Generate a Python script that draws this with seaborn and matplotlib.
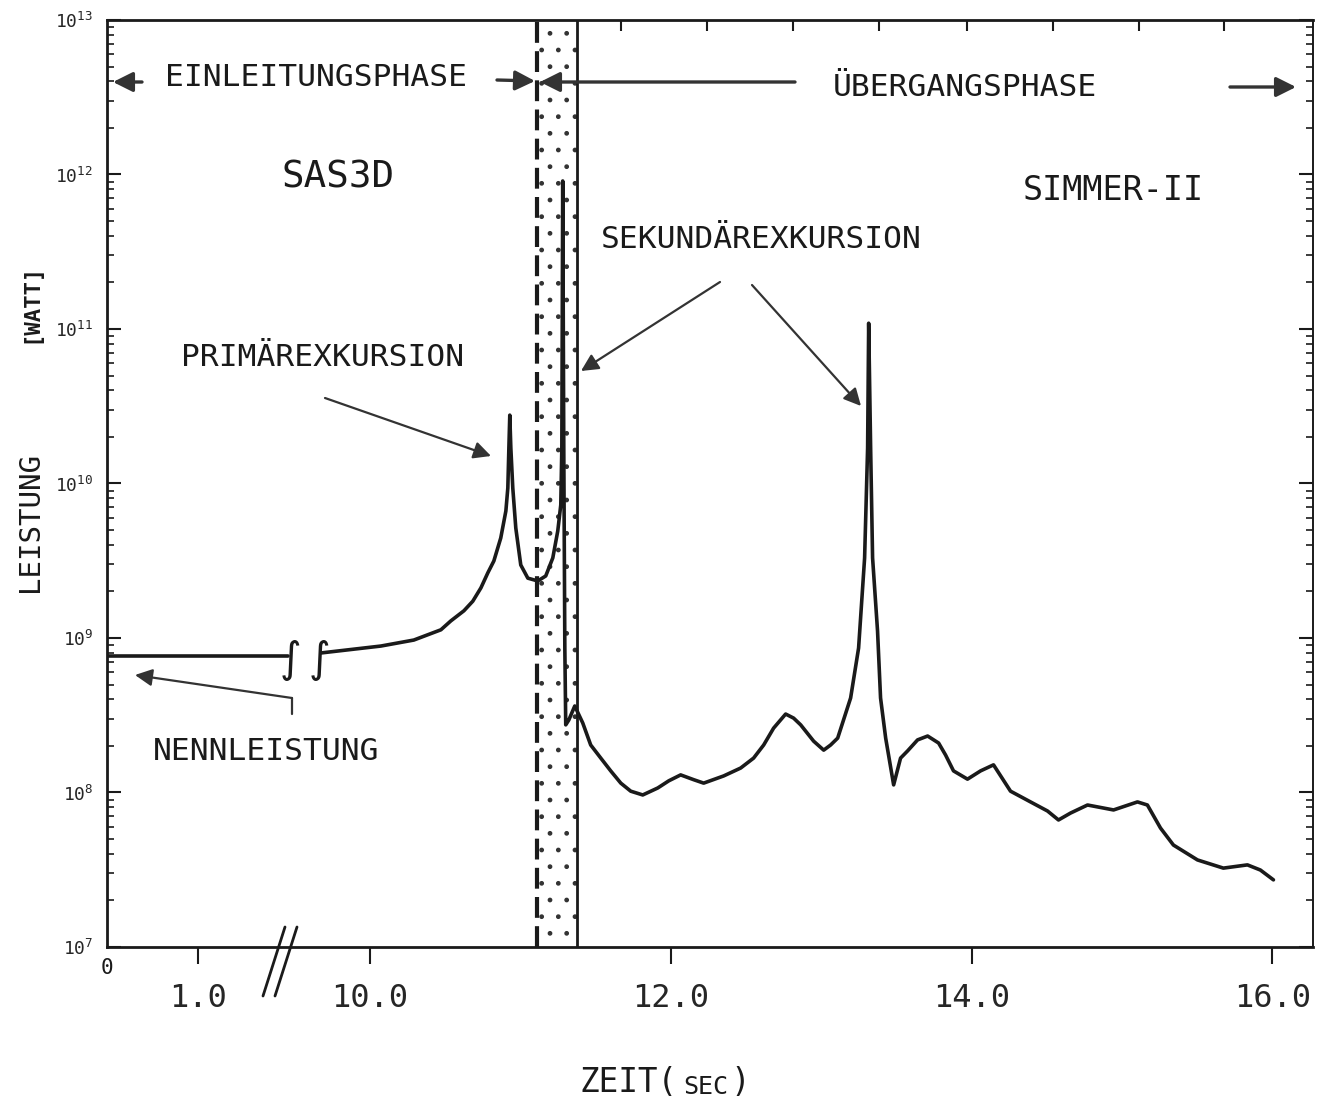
import numpy as np
import pandas as pd
import matplotlib
matplotlib.use("Agg")
import matplotlib.pyplot as plt
from matplotlib.ticker import NullFormatter, LogLocator
import seaborn as sns

# ---------------- data ----------------
nominal_time = [0.0, 9.455]
nominal_power = [7.65e8, 7.65e8]

time_s = [9.674, 10.073, 10.292, 10.472, 10.538, 10.625, 10.684, 10.738, 10.784, 10.824,
          10.870, 10.904, 10.917, 10.924, 10.930, 10.937, 10.950, 10.970, 11.003, 11.050,
          11.116, 11.169, 11.216, 11.249, 11.269, 11.276, 11.282, 11.289, 11.296, 11.302,
          11.322, 11.362, 11.415, 11.468, 11.535, 11.601, 11.668, 11.734, 11.814, 11.914,
          11.987, 12.066, 12.153, 12.219, 12.352, 12.465, 12.551, 12.618, 12.684, 12.764,
          12.817, 12.864, 12.950, 13.017, 13.063, 13.110, 13.196, 13.249, 13.289, 13.309,
          13.316, 13.329, 13.342, 13.375, 13.395, 13.429, 13.482, 13.528, 13.575, 13.641,
          13.708, 13.781, 13.827, 13.880, 13.973, 14.060, 14.146, 14.259, 14.392, 14.505,
          14.578, 14.658, 14.771, 14.944, 15.103, 15.169, 15.256, 15.342, 15.502, 15.674,
          15.834, 15.920, 16.007]
power_w = [8.00e8, 8.87e8, 9.70e8, 1.13e9, 1.29e9, 1.50e9, 1.73e9, 2.11e9, 2.64e9, 3.15e9,
           4.44e9, 6.64e9, 9.35e9, 1.70e10, 2.77e10, 1.70e10, 9.35e9, 5.15e9, 2.97e9, 2.44e9,
           2.34e9, 2.52e9, 3.30e9, 4.93e9, 7.26e9, 1.70e10, 9.08e11, 1.70e10, 8.61e8, 2.74e8,
           2.94e8, 3.63e8, 2.82e8, 2.03e8, 1.67e8, 1.38e8, 1.15e8, 1.02e8, 9.64e7, 1.07e8,
           1.19e8, 1.30e8, 1.21e8, 1.15e8, 1.28e8, 1.44e8, 1.67e8, 2.03e8, 2.61e8, 3.22e8,
           3.03e8, 2.74e8, 2.15e8, 1.88e8, 2.03e8, 2.25e8, 4.09e8, 8.61e8, 3.30e9, 1.70e10,
           1.09e11, 1.70e10, 3.30e9, 1.11e9, 4.09e8, 2.25e8, 1.12e8, 1.67e8, 1.86e8, 2.19e8,
           2.32e8, 2.09e8, 1.75e8, 1.38e8, 1.22e8, 1.38e8, 1.51e8, 1.02e8, 8.69e7, 7.59e7,
           6.64e7, 7.36e7, 8.30e7, 7.71e7, 8.69e7, 8.30e7, 5.89e7, 4.57e7, 3.66e7, 3.24e7,
           3.40e7, 3.15e7, 2.72e7]

phase_start = 11.11   # dashed line (end of SAS3D phase)
phase_end = 11.375    # solid line (start of SIMMER-II)

x_ticks = [1.0, 10.0, 12.0, 14.0, 16.0]
x_tick_labels = ["1.0", "10.0", "12.0", "14.0", "16.0"]
top_ticks = [11.667, 12.24, 12.813, 13.387, 13.967, 14.54, 15.113, 15.68]
y_ticks = [1e7, 1e8, 1e9, 1e10, 1e11, 1e12, 1e13]

# ---------------- style ----------------
sns.set_style("white")
plt.rcParams["font.family"] = ["DejaVu Sans Mono", "DejaVu Sans"]
plt.rcParams["hatch.linewidth"] = 1.0
MONO = ["DejaVu Sans Mono", "DejaVu Sans"]
INK = "#1a1a1a"

# broken time axis: 0..1.89 s compressed, gap 1.89..9.40 collapsed
B1, B2 = 1.89, 9.40
S_LEFT, S_RIGHT, S_GAP = 91.0, 150.5, 0.1


def fwd(t):
    t = np.asarray(t, dtype=float)
    p1 = S_LEFT * t
    p2 = S_LEFT * B1 + S_GAP * (t - B1)
    p3 = S_LEFT * B1 + S_GAP * (B2 - B1) + S_RIGHT * (t - B2)
    return np.where(t <= B1, p1, np.where(t < B2, p2, p3))


def inv(p):
    p = np.asarray(p, dtype=float)
    q1 = S_LEFT * B1
    q2 = q1 + S_GAP * (B2 - B1)
    t1 = p / S_LEFT
    t2 = B1 + (p - q1) / S_GAP
    t3 = B2 + (p - q2) / S_RIGHT
    return np.where(p <= q1, t1, np.where(p < q2, t2, t3))


fig = plt.figure(figsize=(13.18, 11.10), dpi=100)
L, R, T, Bt = 107, 1313, 20, 947
W, H = 1318, 1110
ax = fig.add_axes([L / W, 1 - Bt / H, (R - L) / W, (Bt - T) / H])


def P(px, py):
    return ((px - L) / (R - L), (Bt - py) / (Bt - T))


df_nom = pd.DataFrame({"t": nominal_time, "P": nominal_power})
df_run = pd.DataFrame({"t": time_s, "P": power_w})
sns.lineplot(data=df_nom, x="t", y="P", ax=ax, color=INK, lw=2.6,
             sort=False, estimator=None, solid_joinstyle="round")
sns.lineplot(data=df_run, x="t", y="P", ax=ax, color=INK, lw=2.6,
             sort=False, estimator=None, solid_joinstyle="round")

ax.set_xscale("function", functions=(fwd, inv))
ax.set_yscale("log")
ax.set_xlim(0, 16.27)
ax.set_ylim(1e7, 1e13)

# transition zone
ax.axvspan(phase_start, phase_end, facecolor="none", edgecolor="#333333",
           hatch=".", lw=0, zorder=1)
ax.axvline(phase_start, color=INK, lw=3, dashes=(5, 2), zorder=3)
ax.axvline(phase_end, color=INK, lw=2, zorder=3)

# axes styling
for s in ax.spines.values():
    s.set_color(INK)
    s.set_linewidth(2)
ax.spines["right"].set_linewidth(1.4)

# bottom: labelled major ticks (outward); top: unlabelled minor ticks (inward)
ax.set_xticks(x_ticks)
ax.set_xticklabels(x_tick_labels, fontsize=23, family=MONO)
ax.set_xticks(top_ticks, minor=True)
ax.xaxis.set_minor_formatter(NullFormatter())
ax.set_yticks(y_ticks)
ax.yaxis.set_minor_locator(LogLocator(base=10, subs=np.arange(2, 10)))
ax.yaxis.set_minor_formatter(NullFormatter())
ax.tick_params(axis="x", which="major", direction="out", length=12, width=1.5,
               pad=14, color=INK, bottom=True, top=False, labeltop=False)
ax.tick_params(axis="x", which="minor", direction="in", length=8, width=1.5,
               color=INK, bottom=False, top=True, labelbottom=False, labeltop=False)
ax.tick_params(axis="y", which="major", direction="in", length=10, width=1.5,
               left=True, right=True, labelsize=13, pad=10, color=INK)
ax.tick_params(axis="y", which="minor", direction="in", length=5, width=1.2,
               left=True, right=True, color=INK)
ax.set_xlabel(None)
ax.set_ylabel(None)
ax.grid(False)

# "0" label at the origin
ax.text(*P(107, 968), "0", transform=ax.transAxes, ha="center", va="center",
        fontsize=15, family=MONO, color=INK)

# axis-break marks
for x0 in (263, 275):
    xa, ya = P(x0, 996)
    xb, yb = P(x0 + 22, 927)
    ax.plot([xa, xb], [ya, yb], transform=ax.transAxes, color=INK, lw=2,
            clip_on=False)
# curve-break marks
for xb in (290, 319):
    ax.text(*P(xb, 660), "\u222b", transform=ax.transAxes, ha="center",
            va="center", fontsize=30, family=["DejaVu Sans"], color=INK)

# texts
tk = dict(transform=ax.transAxes, ha="left", va="center", color=INK, family=MONO)
ax.text(*P(165, 78), "EINLEITUNGSPHASE", fontsize=22.5, **tk)
ax.text(*P(833, 87), "ÜBERGANGSPHASE", fontsize=22.5, **tk)
ax.text(*P(281, 178), "SAS3D", fontsize=27, **tk)
ax.text(*P(1023, 190), "SIMMER-II", fontsize=24, **tk)
ax.text(*P(601, 240), "SEKUNDÄREXKURSION", fontsize=22.5, **tk)
ax.text(*P(181, 358), "PRIMÄREXKURSION", fontsize=22.5, **tk)
ax.text(*P(153, 752), "NENNLEISTUNG", fontsize=22.5, **tk)

# arrows
ap = dict(arrowstyle="-|>", color="#333333", lw=2.4, mutation_scale=30,
          shrinkA=0, shrinkB=0)
aps = dict(arrowstyle="-|>", color="#333333", lw=1.6, mutation_scale=26,
           shrinkA=0, shrinkB=0)


def arrow(p_from, p_to, props):
    ax.annotate("", xy=P(*p_to), xytext=P(*p_from), xycoords="axes fraction",
                textcoords="axes fraction", arrowprops=props, annotation_clip=False)


arrow((142, 82), (113, 82), ap)
arrow((497, 80), (535, 81), ap)
arrow((795, 82), (540, 82), ap)
arrow((1230, 87), (1296, 87), ap)
arrow((720, 282), (581, 371), aps)
arrow((752, 285), (861, 406), aps)
arrow((325, 398), (491, 456), aps)
xa, ya = P(292, 714)
xb, yb = P(292, 698)
ax.plot([xa, xb], [ya, yb], transform=ax.transAxes, color="#333333", lw=1.6)
arrow((292, 698), (135, 675), aps)

# axis titles
fig.text(30 / W, 1 - 522 / H, "LEISTUNG", rotation=90, ha="center", va="center",
         fontsize=21, family=MONO, color=INK)
fig.text(30 / W, 1 - 303 / H, "[WATT]", rotation=90, ha="center", va="center",
         fontsize=16, family=MONO, color=INK, fontweight="bold")
fig.text(580 / W, 1 - 1083 / H, "ZEIT(", ha="left", va="center",
         fontsize=23.5, family=MONO, color=INK)
fig.text(683 / W, 1 - 1087 / H, "SEC", ha="left", va="center",
         fontsize=18, family=MONO, color=INK)
fig.text(730 / W, 1 - 1083 / H, ")", ha="left", va="center",
         fontsize=23.5, family=MONO, color=INK)

fig.savefig("out.png", dpi=100)
